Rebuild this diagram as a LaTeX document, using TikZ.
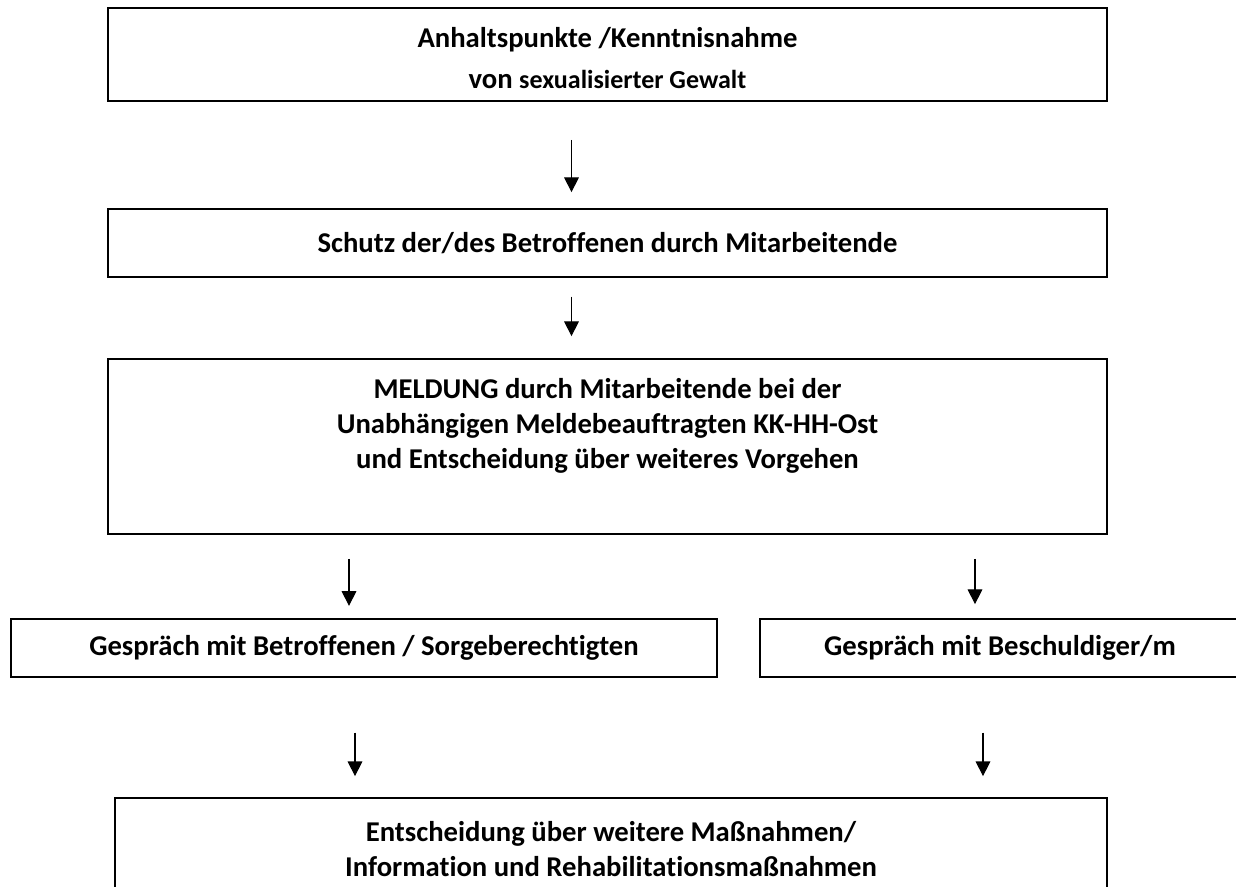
\documentclass[tikz,border=0pt]{standalone}
\usepackage{fontspec}
\setmainfont{Carlito}[Ligatures=NoCommon]
\usetikzlibrary{arrows.meta,calc}
\begin{document}
\begin{tikzpicture}[x=0.75pt,y=-0.75pt,
  box/.style={draw=black,line width=1.3pt,rectangle,inner sep=0pt,align=center,
    font=\fontsize{21.5}{26.25}\selectfont\bfseries},
  arr/.style={line width=0.8pt,-{Triangle[length=11pt,width=11pt]}}]
\useasboundingbox (0,0) rectangle (1236,887);
\node[box,minimum width=749.25pt,minimum height=69.75pt] (b1) at (607.5,54.5)
  {\rule{0pt}{20.5pt}Anhaltspunkte /Kenntnisnahme\\[4.5pt] von {\fontsize{19.5}{22}\selectfont sexualisierter Gewalt}};
\node[box,minimum width=749.25pt,minimum height=51pt] (b2) at (607.5,243)
  {Schutz der/des Betroffenen durch Mitarbeitende};
\node[box,minimum width=749.25pt,minimum height=131.25pt] (b3) at (607.5,446.5)
  {MELDUNG durch Mitarbeitende bei der\\ Unabhängigen Meldebeauftragten KK-HH-Ost\\ und Entscheidung über weiteres Vorgehen\\ \strut};
\node[box,minimum width=529.5pt,minimum height=43.5pt] (b4) at (364,648)
  {Gespräch mit Betroffenen / Sorgeberechtigten};
\node[box,minimum width=360pt,minimum height=43.5pt] (b5) at (1000,648)
  {Gespräch mit Beschuldiger/m};
\node[box,minimum width=744pt,minimum height=76.5pt] (b6) at (611,849)
  {Entscheidung über weitere Maßnahmen/\\ Information und Rehabilitationsmaßnahmen};
\draw[arr,shorten <=28.5pt,shorten >=12pt] ($(b1.south)+(-36,0)$) -- ($(b2.north)+(-36,0)$);
\draw[arr,shorten <=14pt,shorten >=16.5pt] ($(b2.south)+(-36,0)$) -- ($(b3.north)+(-36,0)$);
\draw[arr,shorten <=18pt,shorten >=10.5pt] ($(b3.south)+(-258.5,0)$) -- ($(b3.south)+(-258.5,85)$);
\draw[arr,shorten <=18pt,shorten >=10.5pt] ($(b3.south)+(367.5,0)$) -- ($(b5.north)+(-25,0)$);
\draw[arr,shorten <=41pt,shorten >=15.75pt] ($(b4.south)+(-9,0)$) -- ($(b6.north)+(-256,0)$);
\draw[arr,shorten <=41pt,shorten >=15.75pt] ($(b5.south)+(-17,0)$) -- ($(b6.north)+(372,0)$);
\end{tikzpicture}
\end{document}
